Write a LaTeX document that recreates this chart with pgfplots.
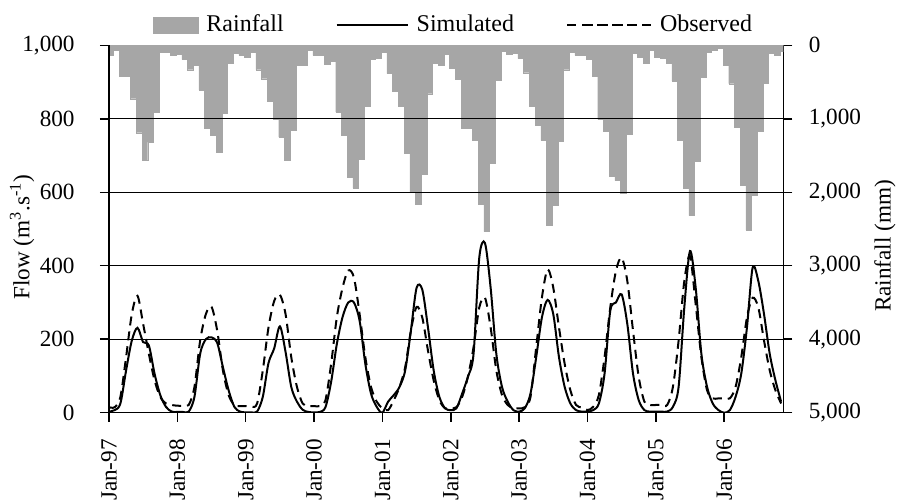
\documentclass[border=0pt]{standalone}
\usepackage{fontspec}
\setmainfont{Liberation Serif}
\usepackage{pgfplots}
\usepackage{pgfplotstable}
\pgfplotsset{compat=1.18}
\definecolor{raingray}{RGB}{166,166,166}
\pgfplotsset{
  rainimg/.style={legend image code/.code={\fill[raingray] (0pt,-4pt) rectangle (22.5pt,4pt);}},
  solidimg/.style={legend image code/.code={\draw[##1] (0pt,0pt) -- (35.5pt,0pt);}},
  dashimg/.style={legend image code/.code={\path (0pt,0pt) -- (42pt,0pt);\draw[##1] (8.5pt,0pt) -- (35pt,0pt);}},
}

\pgfplotstableread{
rain sim obs
136 3 15
68 7 15
418 25 43
418 115 151
727 196 268
1190 231 318
1568 192 241
1318 183 160
909 106 88
91 48 43
100 16 25
136 3 21
127 2 19
195 2 19
332 3 21
273 43 70
605 160 196
1123 200 268
1227 205 288
1455 190 223
923 124 115
250 61 48
105 16 21
136 3 18
159 1 18
100 1 16
332 3 25
455 43 115
764 135 232
1000 175 304
1250 235 321
1568 165 268
1150 70 151
273 30 70
273 8 25
68 2 18
136 1 18
136 2 18
259 15 34
214 84 133
909 187 260
1227 260 340
1795 300 387
1945 300 368
1545 250 268
832 133 151
195 52 70
182 16 30
100 0 12
386 30 7
623 48 34
832 70 70
1468 115 124
2000 223 223
2159 340 288
1759 335 259
659 232 169
241 115 88
273 43 34
123 12 12
318 7 12
468 12 15
1127 52 43
1127 97 97
1286 160 178
2168 421 286
2536 462 313
1605 340 232
477 160 115
77 70 48
123 30 21
105 7 12
182 3 12
373 12 15
832 52 43
1091 151 178
1295 259 313
2455 307 390
2173 268 340
1309 151 232
332 70 133
91 25 61
136 7 21
136 3 14
195 3 7
423 7 16
1009 25 48
1168 106 151
1786 277 286
1841 300 386
2014 322 422
1205 241 358
105 106 223
168 34 97
250 7 30
68 3 21
159 3 21
182 3 21
241 3 21
486 16 70
1286 70 196
1941 286 358
2318 440 426
1577 340 295
432 160 151
100 70 61
68 25 39
45 7 39
273 0 39
523 7 39
1114 43 70
1909 106 151
2514 232 259
2045 395 313
1168 358 286
514 268 196
105 160 115
136 88 61
80 30 25
}\datatable

\begin{document}
\fontsize{11.6}{14}\selectfont
\begin{tikzpicture}
\pgfplotsset{
  base/.style={
    scale only axis, width=337.2pt, height=183.7pt,
    xmin=0, xmax=118.4, enlargelimits=false,
    axis line style={line width=0.75pt, black},
    major tick length=4.5pt, tick align=outside,
    every tick/.style={black, line width=0.75pt},
    /pgf/number format/assume math mode=true,
    /pgf/number format/1000 sep={,},
    scaled y ticks=false,
  }
}
% Rainfall (right axis, reversed)
\begin{axis}[base,
  axis x line=none, axis y line*=right,
  ymin=0, ymax=5000, y dir=reverse,
  ytick={0,1000,...,5000},
  yticklabel style={inner xsep=8pt},
  ylabel={Rainfall (mm)},
  ylabel style={at={(axis description cs:1.1507,0.454)}, anchor=center},
]
\addplot[ybar, bar width=1, fill=raingray, draw=raingray, line width=0.2pt]
  table[x expr=\coordindex+0.3, y=rain] {\datatable};
\end{axis}
% Flow (left axis)
\begin{axis}[base, name=ax,
  axis x line*=bottom, axis y line*=left,
  ymin=0, ymax=1000,
  ytick={0,200,...,800}, extra y ticks={1000}, extra y tick style={grid=none},
  yticklabel style={inner xsep=12.5pt},
  ymajorgrids, grid style={black, line width=0.6pt},
  xtick={0,12,...,108},
  xticklabels={Jan-97,Jan-98,Jan-99,Jan-00,Jan-01,Jan-02,Jan-03,Jan-04,Jan-05,Jan-06},
  xticklabel style={rotate=90, anchor=east, inner xsep=8.5pt},
  ylabel={Flow (m\textsuperscript{3}.s\textsuperscript{-1})},
  ylabel style={at={(axis description cs:-0.129,0.478)}, anchor=center},
  legend columns=3,
  legend style={at={(axis description cs:0.515,1)}, anchor=center, yshift=10pt,
    font=\fontsize{12}{14}\selectfont,
    nodes={inner xsep=4pt},
    draw=none, fill=none, /tikz/every even column/.append style={column sep=22pt}},
]
\addlegendimage{rainimg}
\addlegendentry{Rainfall}
\addplot[black, line width=1pt, smooth, solidimg]
  table[x expr=\coordindex, y=sim] {\datatable};
\addlegendentry{Simulated}
\addplot[black, line width=1pt, smooth, dash pattern=on 4.5pt off 3pt, dashimg]
  table[x expr=\coordindex, y=obs] {\datatable};
\addlegendentry{Observed}
\end{axis}
\pgfresetboundingbox
\path ([shift={(-54.5pt,-44.15pt)}]ax.south west) rectangle ([shift={(62.3pt,22.65pt)}]ax.north east);
\end{tikzpicture}
\end{document}
